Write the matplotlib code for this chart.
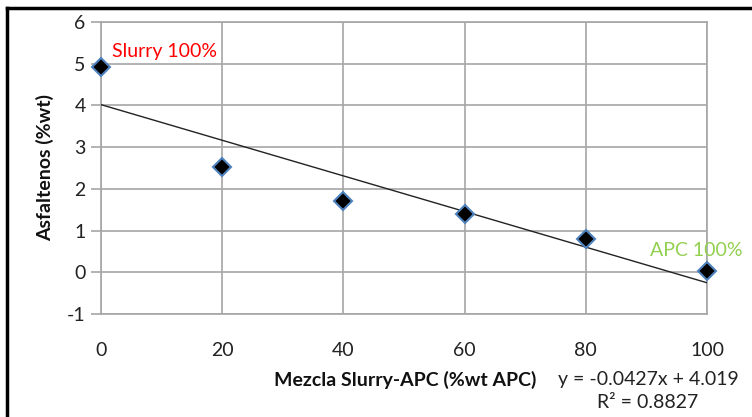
import matplotlib
matplotlib.use("Agg")
import matplotlib.pyplot as plt
from matplotlib.lines import Line2D
import numpy as np

plt.rcParams['font.family'] = ['Lato', 'DejaVu Sans']
plt.rcParams['axes.unicode_minus'] = False

x_vals = [0, 20, 40, 60, 80, 100]
y_vals = [4.92, 2.52, 1.70, 1.40, 0.80, 0.02]
slope = -0.0427
intercept = 4.019
r2 = 0.8827
x_ticks = [0, 20, 40, 60, 80, 100]
y_ticks = [-1, 0, 1, 2, 3, 4, 5, 6]

W, H = 752, 417
fig = plt.figure(figsize=(W/100, H/100), dpi=100)
ax = fig.add_axes([101/W, 1-314/H, (707-101)/W, (314-22)/H])

fs = 14
grid_c = '#a6a6a6'
ax.set_xlim(0, 100)
ax.set_ylim(-1, 6)
ax.set_xticks(x_ticks)
ax.set_yticks(y_ticks)
ax.grid(True, color=grid_c, lw=1.2)
ax.set_axisbelow(True)
for s in ax.spines.values():
    s.set_color(grid_c)
    s.set_linewidth(1.2)
ax.tick_params(axis='y', length=7, color=grid_c, width=1.2, labelsize=fs, pad=4, labelcolor='#222222')
ax.tick_params(axis='x', length=0, labelsize=fs, pad=20, labelcolor='#222222')

xt = np.array([0, 100])
ax.plot(xt, slope*xt + intercept, color='#222222', lw=1.0, zorder=3)
ax.plot(x_vals, y_vals, linestyle='none', marker='D', ms=9.5, mfc='black',
        mec='#4f81bd', mew=1.5, zorder=4, clip_on=False)

ax.text(1.8, 5.3, 'Slurry 100%', color='#ff0000', fontsize=fs, ha='left', va='center')
ax.text(105.8, 0.53, 'APC 100%', color='#92d050', fontsize=fs, ha='right', va='center', clip_on=False)

fig.text(45/W, 1-168/H, 'Asfaltenos (%wt)', rotation=90, fontsize=fs, fontweight='bold',
         ha='center', va='center', color='#111111')
fig.text(405/W, 1-380/H, 'Mezcla Slurry-APC (%wt APC)', fontsize=fs, fontweight='bold',
         ha='center', va='center', color='#111111')
fig.text(648/W, 1-380/H, f'y = {slope}x + {intercept}', fontsize=fs,
         ha='center', va='center', color='#222222')
fig.text(648/W, 1-403/H, f'R\u00b2 = {r2}', fontsize=fs,
         ha='center', va='center', color='#222222')

fig.add_artist(Line2D([7/W, 1], [1-8/H, 1-8/H], color='black', lw=2.5, transform=fig.transFigure))
fig.add_artist(Line2D([7/W, 7/W], [1-8/H, 0], color='black', lw=2.5, transform=fig.transFigure))

fig.savefig('out.png', dpi=100)
